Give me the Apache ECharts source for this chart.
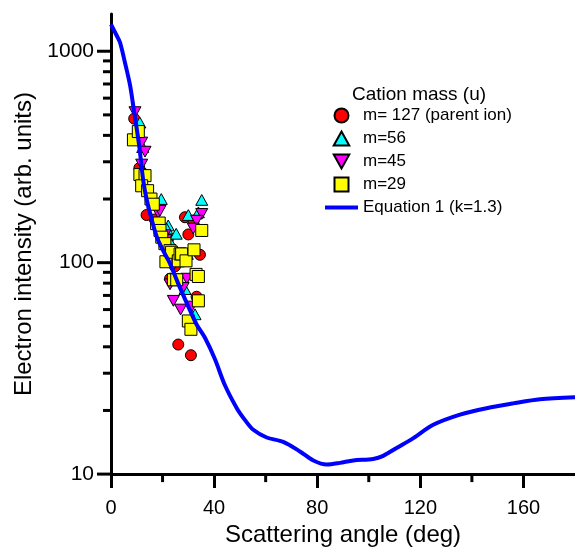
<!DOCTYPE html>
<html>
<head>
<meta charset="utf-8">
<script src="https://cdn.jsdelivr.net/npm/echarts@6/dist/echarts.min.js"></script>
<style>html,body{margin:0;padding:0;background:#fff;}#c{width:575px;height:552px;}</style>
</head>
<body>
<div id="c"></div>
<script>
// ---- data ----
var xTicks = [0, 40, 80, 120, 160];
var xMinorTicks = [20, 60, 100, 140];
var yMajorTicks = [10, 100, 1000];
var yMinorTicks = [20, 30, 40, 50, 60, 70, 80, 90, 200, 300, 400, 500, 600, 700, 800, 900];

var m127 = [[9, 480], [11, 280], [13.8, 168], [17, 160], [22.2, 130], [22.9, 84], [24.8, 96],
  [26.1, 41], [28.7, 164], [30, 136], [31, 36.5], [32, 158], [33.2, 69], [34.5, 109]];
var m56 = [[11.2, 460], [12.3, 352], [19.5, 200], [22.2, 150], [21.6, 145], [25.3, 137], [23.5, 122],
  [23.5, 114], [29.6, 110], [28.7, 75], [32.6, 57], [30, 168], [33.9, 173], [35.2, 198]];
var m45 = [[9.3, 515], [11.9, 370], [13.2, 335], [11.9, 291], [18.3, 172], [19, 176], [20.9, 135],
  [21.3, 128], [35.2, 170], [33.2, 158], [31.9, 145], [24.2, 97], [29.4, 84], [28, 76], [22.9, 79],
  [24.2, 66], [27, 60], [31.3, 62]];
var m29 = [[8.7, 381], [10.6, 417], [11.2, 261], [13.2, 258], [11.9, 231], [14.2, 219], [15.5, 200],
  [16.4, 189], [17.7, 153], [18.7, 154], [19, 142], [19.7, 132], [20.9, 123], [21.3, 101], [22.9, 114],
  [23.5, 112], [26.1, 102], [26.8, 110], [27.4, 110], [29.1, 102], [32.2, 115], [35.2, 142], [33, 88],
  [33.9, 86], [24.2, 83], [25.5, 83], [33.9, 66], [30, 53], [31, 48.4]];
var eq1 = [[0, 1340], [2, 1200], [3.5, 1100], [5.4, 885], [7.4, 690], [8.7, 545], [10.9, 360],
  [12.5, 245], [13.8, 200], [15.8, 160], [18, 130], [20.9, 110], [22.9, 99], [26, 80], [30, 62],
  [33.2, 51], [36.5, 44], [40.3, 35], [44.2, 26.3], [48.8, 20.5], [52, 18], [55.2, 16.2],
  [60.4, 14.9], [66.8, 14.2], [73.3, 12.8], [78.5, 11.6], [83.7, 11.1], [88.8, 11.3], [94, 11.6],
  [101.7, 11.8], [105.6, 12.2], [110.8, 13.3], [117.3, 14.8], [125, 17.1], [135.4, 19.1],
  [145.7, 20.5], [156, 21.6], [166.4, 22.6], [180, 23.1]];

var legendTitle = 'Cation mass (u)';
var names = ['m= 127 (parent ion)', 'm=56', 'm=45', 'm=29', 'Equation 1 (k=1.3)'];

// ---- chart ----
var FONT = '"Liberation Sans", Arial, sans-serif';
var DOWN_TRI = 'path://M0,0 L10,0 L5,9 Z';
var UP_TRI = 'path://M5,0 L10,9 L0,9 Z';
var SQUARE = 'path://M0,0 L10,0 L10,10 L0,10 Z';
var tickData = [];
yMajorTicks.forEach(function (v) { tickData.push([0, v, 14]); });
yMinorTicks.forEach(function (v) { tickData.push([0, v, 8]); });
xMinorTicks.forEach(function (v) { tickData.push([1, v, 8]); });

var chart = echarts.init(document.getElementById('c'), null, {renderer: 'canvas'});
function sc(name, data, symbol, color, size) {
  return {type: 'scatter', name: name, data: data, symbol: symbol, symbolSize: size,
    symbolKeepAspect: true, z: 2,
    itemStyle: {color: color, borderColor: '#000', borderWidth: 1, opacity: 1}};
}
chart.setOption({
  backgroundColor: '#fff',
  animation: false,
  textStyle: {fontFamily: FONT},
  title: {text: legendTitle, left: 347, top: 80,
    textStyle: {fontFamily: FONT, fontSize: 19, fontWeight: 'normal', color: '#000'}},
  legend: {orient: 'vertical', left: 320, top: 102, itemWidth: 33, itemHeight: 14, itemGap: 6,
    symbolKeepAspect: true,
    textStyle: {fontFamily: FONT, fontSize: 17, color: '#000', lineHeight: 17},
    data: [
      {name: names[0], icon: 'circle'},
      {name: names[1], icon: UP_TRI},
      {name: names[2], icon: DOWN_TRI},
      {name: names[3], icon: SQUARE},
      {name: names[4], icon: 'path://M0,0 L33,0 L33,4 L0,4 Z',
        itemStyle: {color: '#0000ff', borderWidth: 0}}
    ]},
  grid: {left: 111, right: 0, top: 14, bottom: 72, containLabel: false},
  xAxis: {type: 'value', min: 0, max: 180, interval: 40,
    name: 'Scattering angle (deg)', nameLocation: 'middle', nameGap: 47,
    nameTextStyle: {fontFamily: FONT, fontSize: 24, color: '#000'},
    axisLine: {onZero: false, lineStyle: {color: '#000', width: 3}},
    axisTick: {length: 14, lineStyle: {color: '#000', width: 3}},
    axisLabel: {margin: 24, fontFamily: FONT, fontSize: 20, color: '#000', showMaxLabel: false,
      formatter: function (v) { return xTicks.indexOf(v) >= 0 ? String(v) : ''; }},
    splitLine: {show: false}},
  yAxis: {type: 'log', logBase: 10, min: 10, max: 1500,
    name: 'Electron intensity (arb. units)', nameLocation: 'middle', nameGap: 74,
    nameTextStyle: {fontFamily: FONT, fontSize: 24, color: '#000'},
    axisLine: {onZero: false, lineStyle: {color: '#000', width: 3}},
    axisTick: {show: false},
    axisLabel: {margin: 17, fontFamily: FONT, fontSize: 21, color: '#000', showMaxLabel: false,
      formatter: function (v) { return yMajorTicks.indexOf(Math.round(v)) >= 0 ? String(Math.round(v)) : ''; }},
    splitLine: {show: false}},
  series: [
    sc(names[0], m127, 'circle', '#ff0000', 11),
    sc(names[1], m56, UP_TRI, '#00ffff', 12),
    sc(names[2], m45, DOWN_TRI, '#ff00ff', 12),
    sc(names[3], m29, SQUARE, '#ffff00', 12),
    {type: 'line', name: names[4], data: eq1, symbol: 'none', smooth: 0.3, z: 3,
      lineStyle: {color: '#0000ff', width: 4}, itemStyle: {color: '#0000ff'}},
    {type: 'custom', silent: true, clip: false, z: 10, data: tickData,
      encode: {x: 0, y: 1},
      renderItem: function (params, api) {
        var kind = api.value(0), v = api.value(1), len = api.value(2), p;
        if (kind === 0) {
          p = api.coord([0, v]);
          return {type: 'line', shape: {x1: p[0] - len, y1: p[1], x2: p[0], y2: p[1]},
            style: {stroke: '#000', lineWidth: 3}};
        }
        p = api.coord([v, 10]);
        return {type: 'line', shape: {x1: p[0], y1: p[1], x2: p[0], y2: p[1] + len},
          style: {stroke: '#000', lineWidth: 3}};
      }}
  ]
});
</script>
</body>
</html>
